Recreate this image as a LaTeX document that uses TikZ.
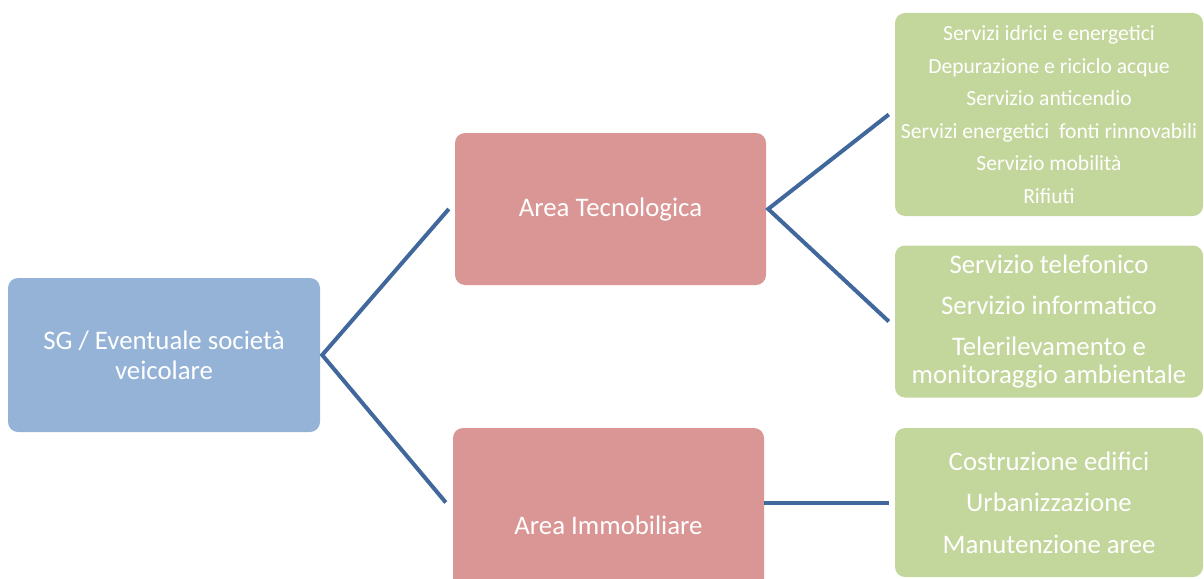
\documentclass[tikz,border=0pt]{standalone}
\usepackage{fontspec}
\setmainfont{Carlito}
\definecolor{boxblue}{HTML}{95B3D7}
\definecolor{boxred}{HTML}{D99694}
\definecolor{boxgreen}{HTML}{C3D69B}
\definecolor{linkblue}{HTML}{41689C}
\begin{document}
\begin{tikzpicture}[x=1pt,y=-1pt,
  box/.style={rounded corners=10pt, text=white, align=center, inner sep=0pt},
  link/.style={draw=linkblue, line width=4pt}]
\useasboundingbox (0,0) rectangle (1204,578);
\clip (0,0) rectangle (1204,578);
\node[box, fill=boxblue, minimum width=312pt, minimum height=154pt,
      font=\fontsize{26.8}{30}\selectfont] (sg) at (164,355)
      {SG / Eventuale società\\veicolare};
\node[box, fill=boxred, minimum width=311pt, minimum height=152pt,
      font=\fontsize{26.8}{30}\selectfont] (rt) at (610.5,209) {Area Tecnologica};
\node[box, fill=boxred, minimum width=311pt, minimum height=194pt,
      font=\fontsize{26.8}{30}\selectfont] (ri) at (608.5,525) {Area Immobiliare};
\node[box, fill=boxgreen, minimum width=308pt, minimum height=203pt,
      font=\fontsize{21.6}{32.6}\selectfont] (gt) at (1049,114.5)
      {Servizi idrici e energetici\\Depurazione e riciclo acque\\Servizio anticendio\\Servizi energetici\ \ fonti rinnovabili\\Servizio mobilità\\Rifiuti};
\node[box, fill=boxgreen, minimum width=308pt, minimum height=152pt,
      font=\fontsize{26.8}{28.5}\selectfont] (gm) at (1049,321.5)
      {Servizio telefonico\\[12.5pt]Servizio informatico\\[12.5pt]Telerilevamento e\\monitoraggio ambientale};
\node[box, fill=boxgreen, minimum width=308pt, minimum height=149pt,
      font=\fontsize{26.8}{41.5}\selectfont] (gb) at (1049,502.5)
      {Costruzione edifici\\Urbanizzazione\\Manutenzione aree};
\draw[link] ([xshift=-6pt]rt.west) -- ([xshift=2pt]sg.east) -- ([xshift=-7pt]ri.west |- gb.west);
\draw[link] ([xshift=-6pt]gt.west) -- ([xshift=2pt]rt.east) -- ([xshift=-6pt]gm.west);
\draw[link] (ri.east |- gb.west) -- ([xshift=-6pt]gb.west);
\end{tikzpicture}
\end{document}
